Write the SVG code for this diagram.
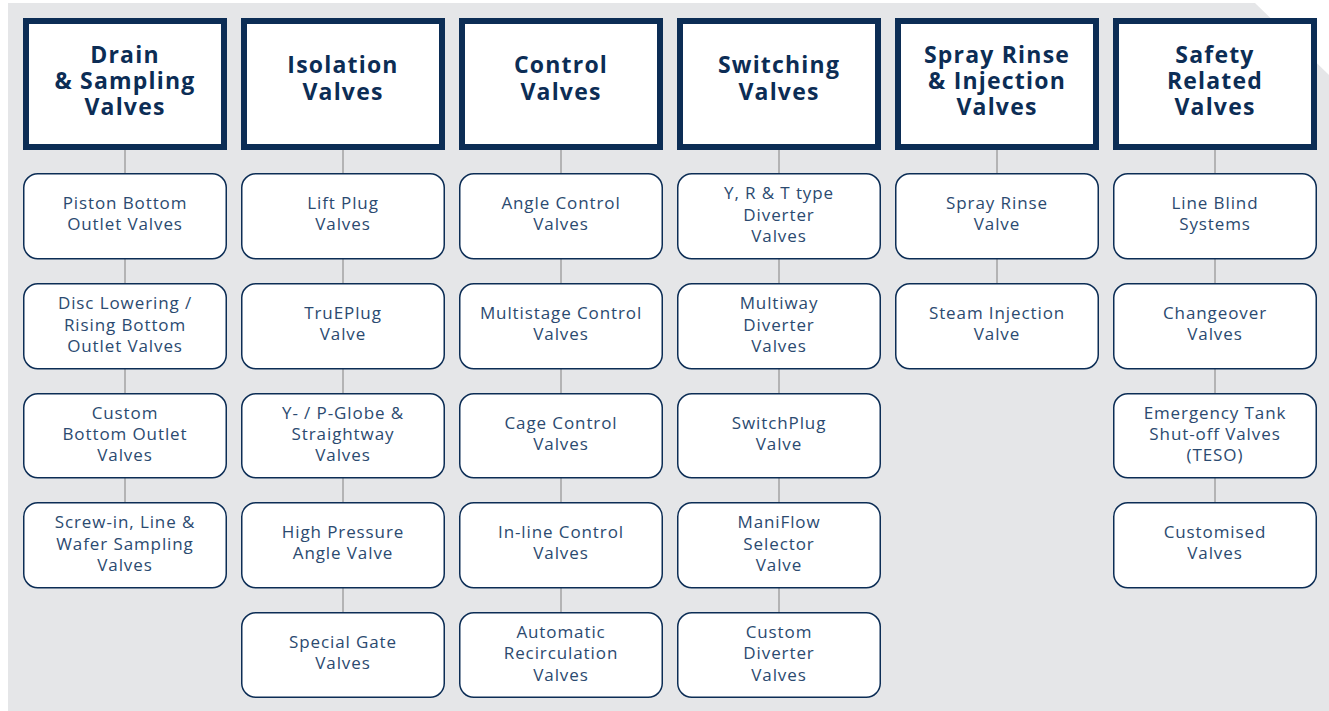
<svg xmlns="http://www.w3.org/2000/svg" width="1329" height="711" viewBox="0 0 1329 711">
<style>
.bg{fill:#e5e6e8}
.hd{fill:#ffffff;stroke:#0c2d55;stroke-width:6}
.bx{fill:#ffffff;stroke:#0c2d55;stroke-width:1.5}
.ht{font-family:"Open Sans","Noto Sans",sans-serif;font-weight:700;font-size:23px;letter-spacing:1.2px;fill:#0c2d55;text-anchor:middle}
.st{font-family:"Open Sans","Noto Sans",sans-serif;font-size:17px;letter-spacing:0.9px;fill:#2b4a70;text-anchor:middle}
.cn{stroke:#a3a3a3;stroke-width:1.5;fill:none}
</style>
<polygon class="bg" points="8,3 1255,3 1329,75 1329,711 8,711"/>
<g id="connectors">
<path class="cn" d="M125,150V173M125,259V283M125,369V393M125,478V502"/>
<path class="cn" d="M343,150V173M343,259V283M343,369V393M343,478V502M343,588V612"/>
<path class="cn" d="M561,150V173M561,259V283M561,369V393M561,478V502M561,588V612"/>
<path class="cn" d="M779,150V173M779,259V283M779,369V393M779,478V502M779,588V612"/>
<path class="cn" d="M997,150V173M997,259V283"/>
<path class="cn" d="M1215,150V173M1215,259V283M1215,369V393M1215,478V502"/>
</g>
<g id="h-drain"><rect class="hd" x="26" y="21" width="198" height="126"/><text class="ht"><tspan x="125" y="63">Drain</tspan><tspan x="125" y="89">&amp; Sampling</tspan><tspan x="125" y="115">Valves</tspan></text></g>
<g id="h-isolation"><rect class="hd" x="244" y="21" width="198" height="126"/><text class="ht"><tspan x="343" y="73">Isolation</tspan><tspan x="343" y="100">Valves</tspan></text></g>
<g id="h-control"><rect class="hd" x="462" y="21" width="198" height="126"/><text class="ht"><tspan x="561" y="73">Control</tspan><tspan x="561" y="100">Valves</tspan></text></g>
<g id="h-switching"><rect class="hd" x="680" y="21" width="198" height="126"/><text class="ht"><tspan x="779" y="73">Switching</tspan><tspan x="779" y="100">Valves</tspan></text></g>
<g id="h-spray"><rect class="hd" x="898" y="21" width="198" height="126"/><text class="ht"><tspan x="997" y="63">Spray Rinse</tspan><tspan x="997" y="89">&amp; Injection</tspan><tspan x="997" y="115">Valves</tspan></text></g>
<g id="h-safety"><rect class="hd" x="1116" y="21" width="198" height="126"/><text class="ht"><tspan x="1215" y="63">Safety</tspan><tspan x="1215" y="89">Related</tspan><tspan x="1215" y="115">Valves</tspan></text></g>

<g id="d1"><rect class="bx" x="23.75" y="173.75" width="202.5" height="85" rx="14"/><text class="st"><tspan x="125" y="209">Piston Bottom</tspan><tspan x="125" y="230">Outlet Valves</tspan></text></g>
<g id="d2"><rect class="bx" x="23.75" y="283.75" width="202.5" height="85" rx="14"/><text class="st"><tspan x="125" y="309">Disc Lowering /</tspan><tspan x="125" y="331">Rising Bottom</tspan><tspan x="125" y="352">Outlet Valves</tspan></text></g>
<g id="d3"><rect class="bx" x="23.75" y="393.75" width="202.5" height="84" rx="14"/><text class="st"><tspan x="125" y="419">Custom</tspan><tspan x="125" y="440">Bottom Outlet</tspan><tspan x="125" y="461">Valves</tspan></text></g>
<g id="d4"><rect class="bx" x="23.75" y="502.75" width="202.5" height="85" rx="14"/><text class="st"><tspan x="125" y="528">Screw-in, Line &amp;</tspan><tspan x="125" y="550">Wafer Sampling</tspan><tspan x="125" y="571">Valves</tspan></text></g>

<g id="i1"><rect class="bx" x="241.75" y="173.75" width="202.5" height="85" rx="14"/><text class="st"><tspan x="343" y="209">Lift Plug</tspan><tspan x="343" y="230">Valves</tspan></text></g>
<g id="i2"><rect class="bx" x="241.75" y="283.75" width="202.5" height="85" rx="14"/><text class="st"><tspan x="343" y="319">TruEPlug</tspan><tspan x="343" y="340">Valve</tspan></text></g>
<g id="i3"><rect class="bx" x="241.75" y="393.75" width="202.5" height="84" rx="14"/><text class="st"><tspan x="343" y="419">Y- / P-Globe &amp;</tspan><tspan x="343" y="440">Straightway</tspan><tspan x="343" y="461">Valves</tspan></text></g>
<g id="i4"><rect class="bx" x="241.75" y="502.75" width="202.5" height="85" rx="14"/><text class="st"><tspan x="343" y="538">High Pressure</tspan><tspan x="343" y="559">Angle Valve</tspan></text></g>
<g id="i5"><rect class="bx" x="241.75" y="612.75" width="202.5" height="84.5" rx="14"/><text class="st"><tspan x="343" y="648">Special Gate</tspan><tspan x="343" y="669">Valves</tspan></text></g>

<g id="c1"><rect class="bx" x="459.75" y="173.75" width="202.5" height="85" rx="14"/><text class="st"><tspan x="561" y="209">Angle Control</tspan><tspan x="561" y="230">Valves</tspan></text></g>
<g id="c2"><rect class="bx" x="459.75" y="283.75" width="202.5" height="85" rx="14"/><text class="st"><tspan x="561" y="319">Multistage Control</tspan><tspan x="561" y="340">Valves</tspan></text></g>
<g id="c3"><rect class="bx" x="459.75" y="393.75" width="202.5" height="84" rx="14"/><text class="st"><tspan x="561" y="429">Cage Control</tspan><tspan x="561" y="450">Valves</tspan></text></g>
<g id="c4"><rect class="bx" x="459.75" y="502.75" width="202.5" height="85" rx="14"/><text class="st"><tspan x="561" y="538">In-line Control</tspan><tspan x="561" y="559">Valves</tspan></text></g>
<g id="c5"><rect class="bx" x="459.75" y="612.75" width="202.5" height="84.5" rx="14"/><text class="st"><tspan x="561" y="638">Automatic</tspan><tspan x="561" y="659">Recirculation</tspan><tspan x="561" y="681">Valves</tspan></text></g>

<g id="s1"><rect class="bx" x="677.75" y="173.75" width="202.5" height="85" rx="14"/><text class="st"><tspan x="779" y="199">Y, R &amp; T type</tspan><tspan x="779" y="221">Diverter</tspan><tspan x="779" y="242">Valves</tspan></text></g>
<g id="s2"><rect class="bx" x="677.75" y="283.75" width="202.5" height="85" rx="14"/><text class="st"><tspan x="779" y="309">Multiway</tspan><tspan x="779" y="331">Diverter</tspan><tspan x="779" y="352">Valves</tspan></text></g>
<g id="s3"><rect class="bx" x="677.75" y="393.75" width="202.5" height="84" rx="14"/><text class="st"><tspan x="779" y="429">SwitchPlug</tspan><tspan x="779" y="450">Valve</tspan></text></g>
<g id="s4"><rect class="bx" x="677.75" y="502.75" width="202.5" height="85" rx="14"/><text class="st"><tspan x="779" y="528">ManiFlow</tspan><tspan x="779" y="550">Selector</tspan><tspan x="779" y="571">Valve</tspan></text></g>
<g id="s5"><rect class="bx" x="677.75" y="612.75" width="202.5" height="84.5" rx="14"/><text class="st"><tspan x="779" y="638">Custom</tspan><tspan x="779" y="659">Diverter</tspan><tspan x="779" y="681">Valves</tspan></text></g>

<g id="p1"><rect class="bx" x="895.75" y="173.75" width="202.5" height="85" rx="14"/><text class="st"><tspan x="997" y="209">Spray Rinse</tspan><tspan x="997" y="230">Valve</tspan></text></g>
<g id="p2"><rect class="bx" x="895.75" y="283.75" width="202.5" height="85" rx="14"/><text class="st"><tspan x="997" y="319">Steam Injection</tspan><tspan x="997" y="340">Valve</tspan></text></g>

<g id="f1"><rect class="bx" x="1113.75" y="173.75" width="202.5" height="85" rx="14"/><text class="st"><tspan x="1215" y="209">Line Blind</tspan><tspan x="1215" y="230">Systems</tspan></text></g>
<g id="f2"><rect class="bx" x="1113.75" y="283.75" width="202.5" height="85" rx="14"/><text class="st"><tspan x="1215" y="319">Changeover</tspan><tspan x="1215" y="340">Valves</tspan></text></g>
<g id="f3"><rect class="bx" x="1113.75" y="393.75" width="202.5" height="84" rx="14"/><text class="st"><tspan x="1215" y="419">Emergency Tank</tspan><tspan x="1215" y="440">Shut-off Valves</tspan><tspan x="1215" y="461">(TESO)</tspan></text></g>
<g id="f4"><rect class="bx" x="1113.75" y="502.75" width="202.5" height="85" rx="14"/><text class="st"><tspan x="1215" y="538">Customised</tspan><tspan x="1215" y="559">Valves</tspan></text></g>
</svg>
